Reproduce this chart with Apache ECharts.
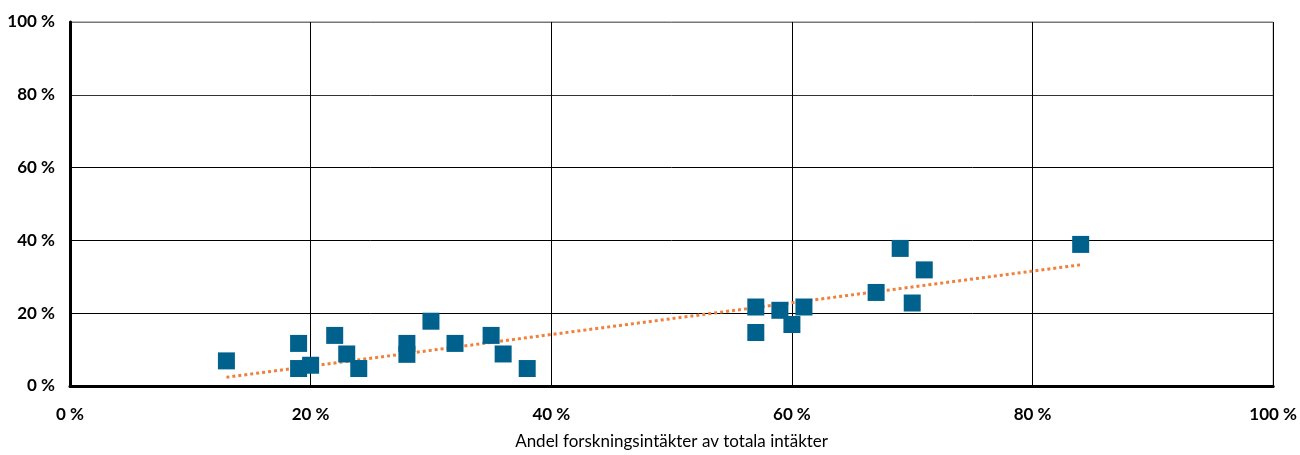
<!DOCTYPE html>
<html>
<head>
<meta charset="utf-8">
<script src="https://cdn.jsdelivr.net/npm/echarts@6/dist/echarts.min.js"></script>
<style>
html,body{margin:0;padding:0;background:#fff;}
#chart{width:1300px;height:455px;}
</style>
</head>
<body>
<div id="chart"></div>
<script>
const xVals = [13,19,19,20,22,23,24,28,28,30,32,35,36,38,57,57,59,60,61,67,69,70,71,84];
const yVals = [6.9,11.7,4.8,5.7,13.9,8.8,4.8,11.7,8.7,17.8,11.7,13.9,8.8,4.8,21.7,14.7,20.8,16.9,21.7,25.7,37.8,22.8,31.9,38.9];
const trendX = [13,84];
const trendY = [2.4,33.3];
const xAxisName = 'Andel forskningsintäkter av totala intäkter';

const points = xVals.map((x,i)=>[x,yVals[i]]);
const trend = trendX.map((x,i)=>[x,trendY[i]]);

const chart = echarts.init(document.getElementById('chart'));
chart.setOption({
  animation:false,
  backgroundColor:'#fff',
  grid:{left:70,right:26,top:22,bottom:61,show:true,borderColor:'#777',borderWidth:1},
  xAxis:{
    type:'value',min:0,max:100,interval:20,
    name:xAxisName,nameLocation:'middle',nameGap:47,
    nameTextStyle:{fontFamily:'Lato',fontSize:17,color:'#000'},
    axisLine:{show:true,onZero:false,lineStyle:{color:'#000',width:3}},
    axisTick:{show:false},
    axisLabel:{formatter:v=>v+' %',fontFamily:'Lato',fontWeight:'bold',fontSize:17,color:'#000',margin:20},
    splitLine:{show:true,lineStyle:{color:'#000',width:1}}
  },
  yAxis:{
    type:'value',min:0,max:100,interval:20,
    axisLine:{show:true,onZero:false,lineStyle:{color:'#000',width:3}},
    axisTick:{show:false},
    axisLabel:{formatter:v=>v+' %',fontFamily:'Lato',fontWeight:'bold',fontSize:17,color:'#000',margin:15},
    splitLine:{show:true,lineStyle:{color:['#000','#000','#000','#000','#333','#777'],width:1}}
  },
  series:[
    {type:'line',data:trend,symbol:'none',z:2,lineStyle:{color:'#f0803c',width:3,type:[3,3]}},
    {type:'scatter',data:points,symbol:'rect',symbolSize:17,z:3,itemStyle:{color:'#00628c',opacity:1}}
  ]
});
</script>
</body>
</html>
